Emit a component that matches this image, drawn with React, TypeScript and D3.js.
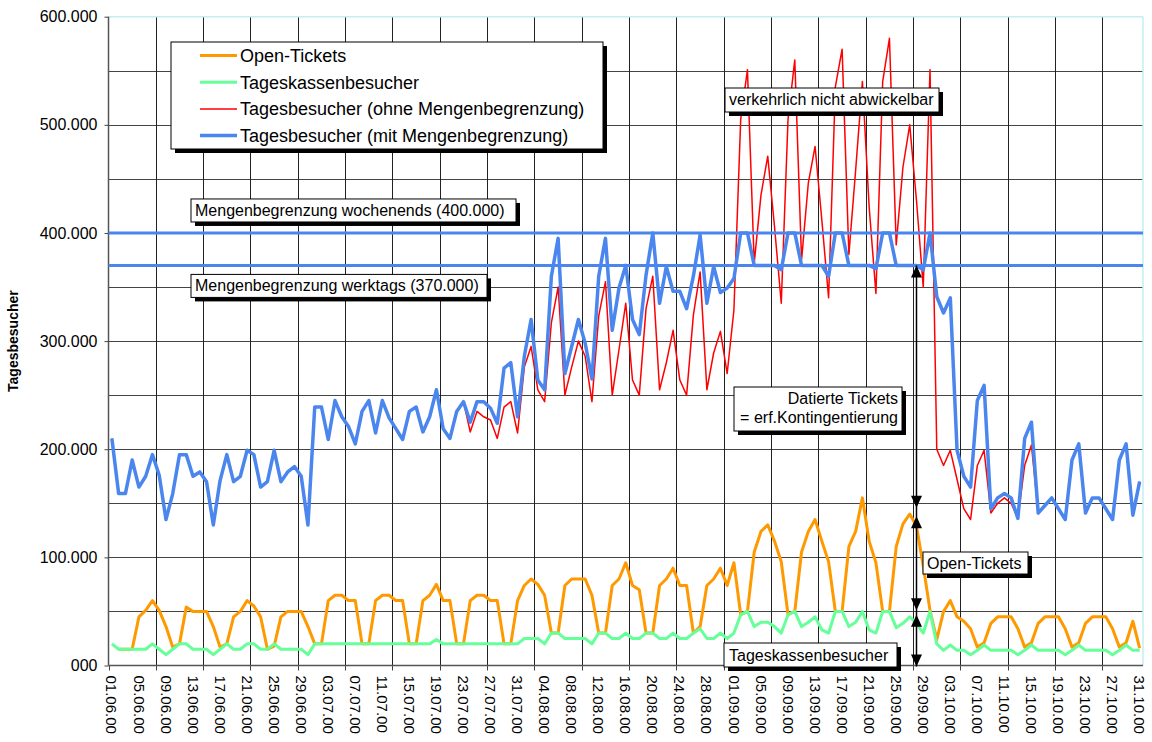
import * as d3 from "d3";
import { useEffect, useRef } from "react";

// Expo 2000 – daily visitors, 01.06.00 – 31.10.00 (values in thousands)
const firstDay = new Date(2000, 5, 1);
const lastDay = new Date(2000, 9, 31);

const openTickets = [
  // June
  null, 15, 15, 15, 45, 51, 60, 51, 36, 17, 20, 54, 50, 50, 50, 36, 17, 20, 45, 50,
  60, 55, 45, 15, 18, 45, 50, 50, 50, 36,
  // July
  20, 20, 60, 65, 65, 60, 60, 20, 20, 60, 65, 65, 60, 60, 20, 20, 60, 65, 75, 60,
  60, 20, 20, 60, 65, 65, 60, 60, 20, 20, 60,
  // August
  74, 80, 75, 65, 30, 30, 74, 80, 80, 80, 65, 30, 30, 74, 80, 95, 74, 70, 30, 30,
  74, 80, 90, 74, 74, 30, 36, 74, 80, 90, 74,
  // September
  95, 47, 50, 105, 124, 130, 115, 96, 47, 50, 105, 124, 135, 115, 96, 50, 50, 110, 124, 155,
  115, 95, 50, 50, 110, 131, 140, 129, 92, 51,
  // October
  24, 50, 60, 45, 41, 34, 17, 21, 39, 45, 45, 45, 34, 17, 21, 39, 45, 45, 45, 34,
  17, 21, 39, 45, 45, 45, 34, 17, 21, 41, 16,
];

const tageskasse = [
  20, 15, 15, 15, 15, 15, 20, 15, 10, 15, 20, 20, 15, 15, 15, 10, 15, 20, 15, 15,
  20, 20, 15, 15, 20, 15, 15, 15, 15, 10,
  20, 20, 20, 20, 20, 20, 20, 20, 20, 20, 20, 20, 20, 20, 20, 20, 20, 20, 24, 20,
  20, 20, 20, 20, 20, 20, 20, 20, 20, 20, 20,
  25, 25, 25, 20, 30, 30, 25, 25, 25, 25, 20, 30, 30, 25, 25, 30, 25, 25, 30, 30,
  25, 25, 30, 25, 25, 30, 34, 25, 25, 30, 25,
  30, 47, 50, 36, 40, 40, 36, 30, 47, 50, 36, 40, 45, 33, 30, 50, 50, 36, 40, 50,
  33, 30, 50, 50, 35, 39, 45, 39, 30, 50,
  20, 14, 19, 14, 14, 10, 14, 19, 14, 14, 14, 14, 10, 14, 19, 14, 14, 14, 14, 10,
  14, 19, 14, 14, 14, 14, 10, 14, 19, 14, 14,
];

const ohneBegrenzung = [
  210, 159, 159, 190, 165, 175, 195, 176, 135, 159, 195, 195, 175, 179, 170, 130, 171, 195, 170, 175,
  199, 195, 165, 170, 199, 170, 179, 184, 175, 130,
  239, 239, 209, 245, 230, 221, 205, 235, 245, 215, 245, 229, 219, 209, 235, 239, 216, 230, 255, 219,
  210, 235, 244, 216, 235, 230, 227, 210, 239, 244, 215,
  276, 295, 255, 244, 317, 350, 250, 276, 300, 286, 244, 323, 355, 250, 292, 335, 264, 250, 330, 360,
  255, 280, 310, 264, 250, 324, 364, 255, 289, 309, 270,
  329, 505, 551, 372, 435, 471, 406, 335, 505, 560, 375, 446, 480, 412, 340, 535, 570, 380, 458, 540,
  424, 344, 540, 580, 389, 461, 500, 430, 350, 551,
  200, 185, 199, 172, 145, 135, 185, 199, 141, 150, 155, 150, 136, 185, 204, 141, 148, 155, 145, 135,
  190, 205, 141, 155, 155, 145, 135, 190, 205, 139, 170,
];

const mitBegrenzung = [
  210, 159, 159, 190, 165, 175, 195, 176, 135, 159, 195, 195, 175, 179, 170, 130, 171, 195, 170, 175,
  199, 195, 165, 170, 199, 170, 179, 184, 175, 130,
  239, 239, 209, 245, 230, 221, 205, 235, 245, 215, 245, 229, 219, 209, 235, 239, 216, 230, 255, 219,
  210, 235, 244, 225, 244, 244, 238, 224, 275, 280, 230,
  286, 320, 264, 255, 360, 395, 270, 295, 320, 298, 265, 360, 395, 310, 349, 370, 320, 306, 361, 400,
  335, 369, 346, 346, 330, 360, 398, 335, 369, 345, 349,
  358, 400, 400, 370, 370, 370, 370, 366, 400, 400, 370, 370, 370, 370, 360, 400, 400, 370, 370, 370,
  370, 367, 400, 400, 370, 370, 370, 370, 366, 400,
  341, 326, 340, 199, 175, 165, 245, 259, 145, 155, 159, 155, 136, 210, 225, 141, 148, 155, 145, 135,
  190, 205, 141, 155, 155, 145, 135, 190, 205, 139, 170,
];

const seriesNames = [
  "Open-Tickets",
  "Tageskassenbesucher",
  "Tagesbesucher (ohne Mengenbegrenzung)",
  "Tagesbesucher (mit Mengenbegrenzung)",
];
const seriesColors = ["#ff9900", "#66ff99", "#ff0000", "#4a86ee"];
const seriesWidths = [3, 3, 1.5, 3.5];

const limitValues = [400, 370];
const limitLabels = ["Mengenbegrenzung wochenends (400.000)", "Mengenbegrenzung werktags (370.000)"];

const yTicks = [0, 100, 200, 300, 400, 500, 600];

const arrowDate = "28.09.00";
const arrowRanges = [[370, 146], [138, 51], [47, 0]];

const FONT = "'Liberation Sans', Arial, sans-serif";

export default function App() {
  const svgRef = useRef(null);
  const width = 1152;
  const height = 742;

  useEffect(() => {
    const svg = d3.select(svgRef.current);
    svg.selectAll("*").remove();

    const fmt = d3.timeFormat("%d.%m.%y");
    const dates = d3.timeDay.range(firstDay, d3.timeDay.offset(lastDay, 1)).map(fmt);

    const left = 108.5, right = 1143, top = 16.7, bottom = 665.5;
    const x = d3.scaleBand().domain(dates).range([left, right]).padding(0);
    const cx = (d) => x(d) + x.bandwidth() / 2;
    const y = d3.scaleLinear().domain([0, 600]).range([bottom, top]);

    svg.append("rect").attr("width", width).attr("height", height).attr("fill", "#fff");

    // horizontal grid
    svg.append("g")
      .selectAll("line")
      .data(y.ticks(12).filter((v) => v > 0 && v < 600))
      .join("line")
      .attr("x1", left).attr("x2", right)
      .attr("y1", (d) => Math.round(y(d)) + 0.5).attr("y2", (d) => Math.round(y(d)) + 0.5)
      .attr("stroke", "#444").attr("stroke-width", 1);

    // vertical grid (every 7 days)
    const weekStarts = dates.filter((_, i) => i % 7 === 0);
    svg.append("g")
      .selectAll("line")
      .data(weekStarts.slice(1))
      .join("line")
      .attr("x1", (d) => Math.round(x(d)) + 0.5).attr("x2", (d) => Math.round(x(d)) + 0.5)
      .attr("y1", top).attr("y2", bottom)
      .attr("stroke", "#222").attr("stroke-width", 1);

    // x tick marks
    svg.append("g")
      .selectAll("line")
      .data(weekStarts)
      .join("line")
      .attr("x1", (d) => Math.round(x(d)) + 0.5).attr("x2", (d) => Math.round(x(d)) + 0.5)
      .attr("y1", bottom).attr("y2", bottom + 5)
      .attr("stroke", "#444");

    // plot borders
    svg.append("line").attr("x1", left).attr("x2", right).attr("y1", top).attr("y2", top)
      .attr("stroke", "#c4eef2").attr("stroke-width", 1.5);
    svg.append("line").attr("x1", right).attr("x2", right).attr("y1", top).attr("y2", bottom)
      .attr("stroke", "#c4eef2").attr("stroke-width", 1.5);
    svg.append("line").attr("x1", left).attr("x2", right).attr("y1", bottom).attr("y2", bottom)
      .attr("stroke", "#555").attr("stroke-width", 1.5);
    svg.append("line").attr("x1", left).attr("x2", left).attr("y1", top).attr("y2", bottom)
      .attr("stroke", "#555").attr("stroke-width", 1.5);

    // y axis
    const yAxis = svg.append("g")
      .attr("transform", `translate(${left},0)`)
      .call(
        d3.axisLeft(y)
          .tickValues(yTicks)
          .tickSize(4)
          .tickPadding(7)
          .tickFormat((d) => (d === 0 ? "000" : `${d}.000`))
      );
    yAxis.select(".domain").remove();
    yAxis.selectAll("line").attr("stroke", "#444");
    yAxis.selectAll("text").attr("font-family", FONT).attr("font-size", 16).attr("fill", "#000");

    // x axis labels
    const xAxis = svg.append("g")
      .attr("transform", `translate(0,${bottom})`)
      .call(
        d3.axisBottom(x)
          .tickValues(dates.filter((_, i) => i % 4 === 0))
          .tickSize(0)
      );
    xAxis.select(".domain").remove();
    xAxis.selectAll("text")
      .attr("font-family", FONT)
      .attr("font-size", 15)
      .attr("fill", "#000")
      .attr("transform", "rotate(90)")
      .attr("x", 10)
      .attr("y", 0)
      .attr("dy", "0.36em")
      .style("text-anchor", "start");

    // y title
    svg.append("text")
      .attr("transform", `translate(18,${(top + bottom) / 2}) rotate(-90)`)
      .attr("text-anchor", "middle")
      .attr("font-family", FONT)
      .attr("font-size", 14)
      .attr("font-weight", "bold")
      .text("Tagesbesucher");

    // series
    const allSeries = [openTickets, tageskasse, ohneBegrenzung, mitBegrenzung];
    const line = d3.line()
      .defined((d) => d != null)
      .x((_, i) => cx(dates[i]))
      .y((d) => y(d));
    allSeries.forEach((s, k) => {
      svg.append("path")
        .datum(s)
        .attr("d", line)
        .attr("fill", "none")
        .attr("stroke", seriesColors[k])
        .attr("stroke-width", seriesWidths[k])
        .attr("stroke-linejoin", "round");
    });

    // capacity limits
    svg.append("g")
      .selectAll("line")
      .data(limitValues)
      .join("line")
      .attr("x1", left).attr("x2", right)
      .attr("y1", (d) => y(d)).attr("y2", (d) => y(d))
      .attr("stroke", "#4a86ee").attr("stroke-width", 3);

    // dimension arrows at 28.09.
    const ax = cx(arrowDate);
    svg.append("line")
      .attr("x1", ax).attr("x2", ax)
      .attr("y1", y(370)).attr("y2", y(0) + 1)
      .attr("stroke", "#000").attr("stroke-width", 1.5);
    arrowRanges.forEach(([hi, lo]) => {
      const yt = y(hi), yb = y(lo) + (lo === 0 ? 1 : 0);
      svg.append("path")
        .attr("d", `M${ax},${yt} L${ax - 5.5},${yt + 12} L${ax + 5.5},${yt + 12} Z`)
        .attr("fill", "#000");
      svg.append("path")
        .attr("d", `M${ax},${yb} L${ax - 5.5},${yb - 12} L${ax + 5.5},${yb - 12} Z`)
        .attr("fill", "#000");
    });

    // boxes with shadow
    const box = (bx, by, bw, bh) => {
      svg.append("rect").attr("x", bx + 4).attr("y", by + 4).attr("width", bw).attr("height", bh).attr("fill", "#000");
      svg.append("rect").attr("x", bx).attr("y", by).attr("width", bw).attr("height", bh)
        .attr("fill", "#fff").attr("stroke", "#000").attr("stroke-width", 1);
    };
    const label = (tx, ty, str, anchor = "start", size = 16) => {
      svg.append("text")
        .attr("x", tx).attr("y", ty)
        .attr("font-family", FONT).attr("font-size", size)
        .attr("text-anchor", anchor)
        .text(str);
    };

    box(191, y(limitValues[0]) - 34, 325, 23);
    label(195, y(limitValues[0]) - 17, limitLabels[0]);
    box(191, y(limitValues[1]) + 9, 296, 23);
    label(195, y(limitValues[1]) + 26, limitLabels[1]);

    box(725, 88, 214, 24);
    label(729, 105, "verkehrlich nicht abwickelbar");

    box(734, 387, 168, 44);
    label(898, 404, "Datierte Tickets", "end");
    label(898, 423, "= erf.Kontingentierung", "end");

    box(923, 552, 105, 22);
    label(927, 569, "Open-Tickets");

    box(724, 643, 173, 24);
    label(729, 661, "Tageskassenbesucher");

    // legend
    box(171, 42, 432, 107);
    seriesNames.forEach((name, k) => {
      const ly = 55.5 + k * 26.7;
      svg.append("line")
        .attr("x1", 200).attr("x2", 237)
        .attr("y1", ly).attr("y2", ly)
        .attr("stroke", seriesColors[k])
        .attr("stroke-width", seriesWidths[k]);
      svg.append("text")
        .attr("x", 240).attr("y", ly)
        .attr("dy", "0.36em")
        .attr("font-family", FONT).attr("font-size", 18)
        .text(name);
    });
  }, []);

  return (
    <svg
      ref={svgRef}
      width={width}
      height={height}
      style={{ position: "absolute", left: 0, top: 0 }}
    ></svg>
  );
}
